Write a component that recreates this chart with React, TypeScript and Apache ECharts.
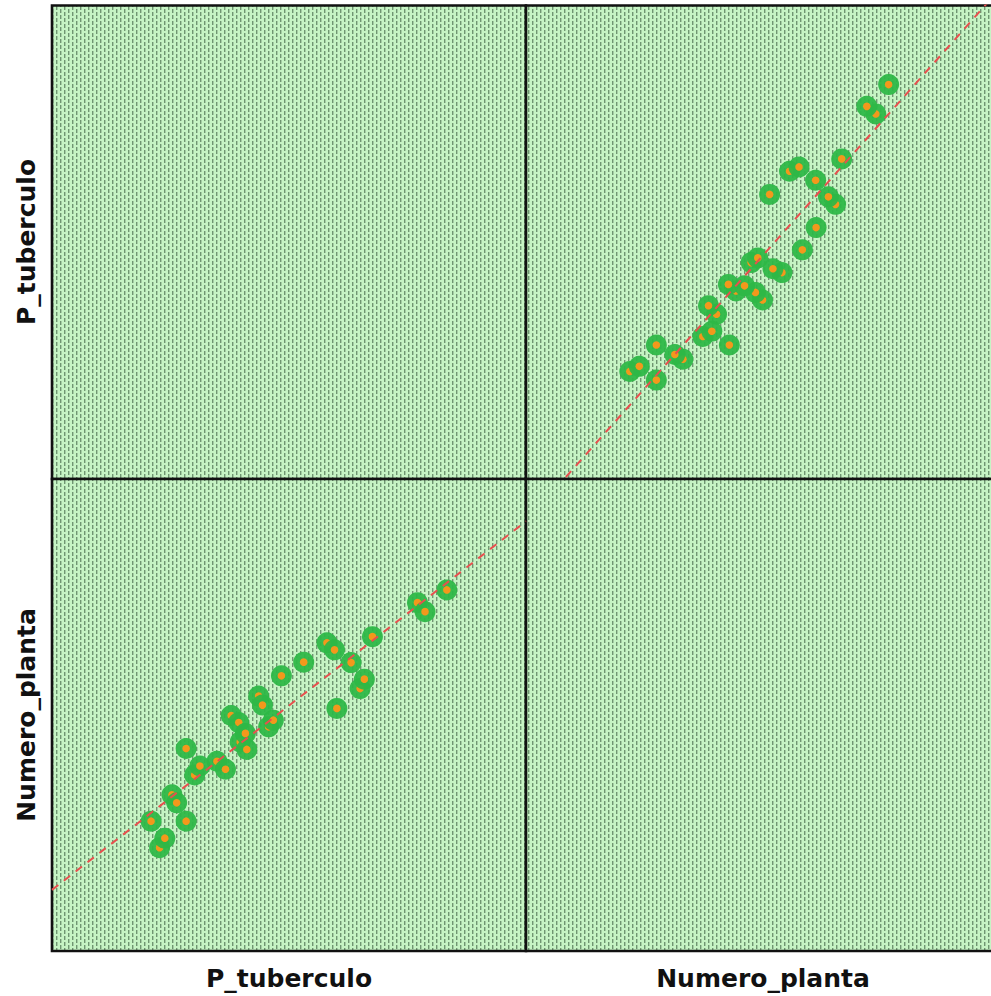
import React, { useEffect, useRef } from "react";
import * as echarts from "echarts";

// Variable names (axis titles)
const variableNames = ["P_tuberculo", "Numero_planta"];

const pTuberculo = [
  83.3, 77.1, 78.7, 67.6, 58.0, 59.6, 63.1, 53.1, 48.4, 65.0, 65.9, 60.1, 43.6, 44.4, 45.7, 46.7,
  37.8, 39.4, 39.7, 40.8, 41.1, 28.3, 34.8, 36.6, 30.1, 31.2, 25.3, 26.3, 20.9, 28.3, 22.7, 23.8,
];
const numeroPlanta = [
  76.5, 73.8, 71.9, 66.6, 65.3, 63.8, 61.1, 61.2, 58.3, 55.6, 57.6, 51.4, 54.0, 52.1, 47.5, 48.9,
  49.9, 48.4, 44.3, 46.1, 42.7, 42.9, 40.2, 38.5, 37.3, 39.2, 33.1, 31.4, 27.5, 27.5, 21.9, 23.9,
];

// Axis range shared by every panel
const axisMin = 0;
const axisMax = 100;

function ols(xs: number[], ys: number[]) {
  const n = xs.length;
  const mx = xs.reduce((a, b) => a + b, 0) / n;
  const my = ys.reduce((a, b) => a + b, 0) / n;
  let sxy = 0;
  let sxx = 0;
  for (let i = 0; i < n; i++) {
    sxy += (xs[i] - mx) * (ys[i] - my);
    sxx += (xs[i] - mx) * (xs[i] - mx);
  }
  const b = sxy / sxx;
  const a = my - b * mx;
  return (x: number) => a + b * x;
}

function makePattern(): HTMLCanvasElement {
  const c = document.createElement("canvas");
  c.width = 8;
  c.height = 6;
  const ctx = c.getContext("2d")!;
  ctx.fillStyle = "#c6f4c4";
  ctx.fillRect(0, 0, 8, 6);
  // staggered short vertical dashes
  ctx.fillStyle = "#6e9670";
  ctx.fillRect(0, 0, 1, 4);
  ctx.fillRect(4, 3, 1, 3);
  ctx.fillRect(4, 0, 1, 1);
  ctx.fillStyle = "#a3cca3";
  ctx.fillRect(1, 0, 1, 4);
  ctx.fillRect(5, 3, 1, 3);
  ctx.fillRect(5, 0, 1, 1);
  return c;
}

export default function App() {
  const ref = useRef<HTMLDivElement>(null);

  useEffect(() => {
    if (!ref.current) return;
    const chart = echarts.init(ref.current, undefined, { renderer: "svg" });
    const pattern = { image: makePattern(), repeat: "repeat" } as any;

    const grids = [
      { left: 52, top: 5.5, width: 474, height: 473.5 },
      { left: 526, top: 5.5, width: 474, height: 473.5 },
      { left: 52, top: 479, width: 474, height: 472 },
      { left: 526, top: 479, width: 474, height: 472 },
    ].map((g) => ({
      ...g,
      show: true,
      backgroundColor: pattern,
      borderColor: "#111111",
      borderWidth: 2.6,
      containLabel: false,
      outerBoundsMode: "none",
    }));

    const hiddenAxis = (gridIndex: number) => ({
      type: "value" as const,
      gridIndex,
      min: axisMin,
      max: axisMax,
      axisLine: { show: false },
      axisTick: { show: false },
      axisLabel: { show: false },
      splitLine: { show: false },
    });

    const xAxis = [0, 1, 2, 3].map(hiddenAxis);
    const yAxis = [0, 1, 2, 3].map(hiddenAxis);

    // panel 1 (top-right): x = Numero_planta, y = P_tuberculo
    const dataTR = numeroPlanta.map((v, i) => [v, pTuberculo[i]]);
    // panel 2 (bottom-left): x = P_tuberculo, y = Numero_planta
    const dataBL = pTuberculo.map((v, i) => [v, numeroPlanta[i]]);

    const fitTR = ols(numeroPlanta, pTuberculo);
    const fitBL = ols(pTuberculo, numeroPlanta);

    const renderPoint = (_params: any, api: any) => {
      const p = api.coord([api.value(0), api.value(1)]);
      return {
        type: "group",
        children: [
          {
            type: "circle",
            shape: { cx: p[0], cy: p[1], r: 10.5 },
            style: { fill: "rgba(46,184,70,0.94)" },
          },
          {
            type: "circle",
            shape: { cx: p[0], cy: p[1], r: 3.8 },
            style: { fill: "#f3981c" },
          },
        ],
      };
    };

    const pointSeries = (idx: number, data: number[][]) => ({
      type: "custom" as const,
      coordinateSystem: "cartesian2d",
      xAxisIndex: idx,
      yAxisIndex: idx,
      data,
      encode: { x: 0, y: 1 },
      renderItem: renderPoint,
      z: 2,
      silent: true,
    });

    const lineSeries = (idx: number, fit: (x: number) => number) => ({
      type: "line" as const,
      xAxisIndex: idx,
      yAxisIndex: idx,
      data: [
        [axisMin, fit(axisMin)],
        [axisMax, fit(axisMax)],
      ],
      symbol: "none",
      clip: true,
      z: 3,
      silent: true,
      lineStyle: { color: "#e8504e", width: 2, type: [8, 7] },
    });

    const labelStyle = {
      fontFamily: "DejaVu Sans",
      fontWeight: "bold",
      fontSize: 25,
      fill: "#111111",
    };

    chart.setOption({
      animation: false,
      backgroundColor: "#ffffff",
      grid: grids,
      xAxis,
      yAxis,
      series: [
        pointSeries(1, dataTR),
        lineSeries(1, fitTR),
        pointSeries(2, dataBL),
        lineSeries(2, fitBL),
      ],
      graphic: [
        {
          type: "text",
          x: 289,
          y: 978,
          style: { ...labelStyle, text: variableNames[0], align: "center", verticalAlign: "middle" },
        },
        {
          type: "text",
          x: 763,
          y: 978,
          style: { ...labelStyle, text: variableNames[1], align: "center", verticalAlign: "middle" },
        },
        {
          type: "text",
          x: 26,
          y: 242,
          rotation: Math.PI / 2,
          style: { ...labelStyle, text: variableNames[0], align: "center", verticalAlign: "middle" },
        },
        {
          type: "text",
          x: 26,
          y: 715,
          rotation: Math.PI / 2,
          style: { ...labelStyle, text: variableNames[1], align: "center", verticalAlign: "middle" },
        },
      ],
    });

    return () => {
      chart.dispose();
    };
  }, []);

  return (
    <div
      ref={ref}
      style={{ position: "absolute", left: 0, top: 0, width: 991, height: 996, overflow: "hidden" }}
    />
  );
}
